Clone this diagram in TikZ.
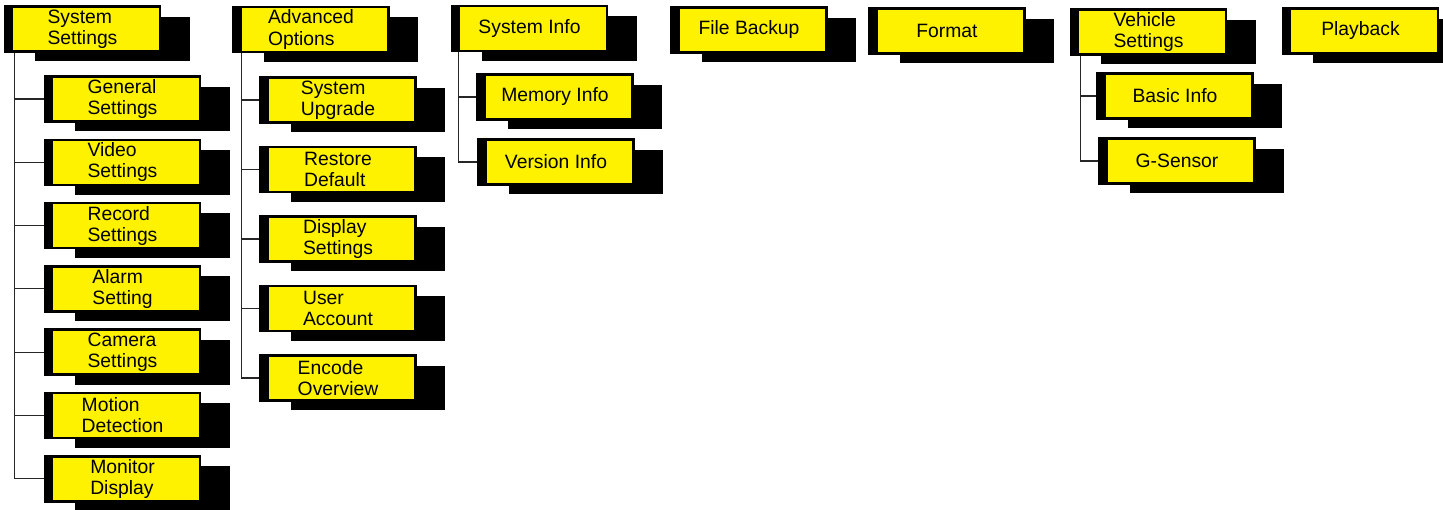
\documentclass[tikz,border=0pt]{standalone}
\usepackage{fontspec}
\setmainfont{Liberation Sans}
\usetikzlibrary{shadows}

\begin{document}
\begin{tikzpicture}[x=0.02cm,y=-0.02cm,
  menu/.style={draw=black,line width=1.4pt,fill=yellow,inner sep=0pt,
    minimum width=3.1cm,minimum height=0.9cm,align=left,
    font=\fontsize{11}{12}\selectfont,
    general shadow={fill=black,shadow xshift=0.6cm,shadow yshift=-0.2cm},
    path picture={\fill[black] (path picture bounding box.north west)
      rectangle ([xshift=0.16cm]path picture bounding box.south west);}},
  link/.style={draw=black!85,line width=0.6pt}]
 \useasboundingbox (0,0) rectangle (1443,510);

 % system settings
 \node [menu] (S0) at (82.5,29) {System\\Settings};
 \node [menu] (S1) at (122.5,99) {General\\Settings};
 \node [menu] (S2) at (122.5,162.3) {Video\\Settings};
 \node [menu] (S3) at (122.5,225.6) {Record\\Settings};
 \node [menu] (S4) at (122.5,288.9) {Alarm\\Setting};
 \node [menu] (S5) at (122.5,352.2) {Camera\\Settings};
 \node [menu] (S6) at (122.5,415.5) {Motion\\Detection};
 \node [menu] (S7) at (122.5,478.8) {Monitor\\Display};
 \draw[link] ([xshift=0.22cm]S0.south west) |- (S1.west);
 \draw[link] ([xshift=0.22cm]S0.south west) |- (S2.west);
 \draw[link] ([xshift=0.22cm]S0.south west) |- (S3.west);
 \draw[link] ([xshift=0.22cm]S0.south west) |- (S4.west);
 \draw[link] ([xshift=0.22cm]S0.south west) |- (S5.west);
 \draw[link] ([xshift=0.22cm]S0.south west) |- (S6.west);
 \draw[link] ([xshift=0.22cm]S0.south west) |- (S7.west);

 % advanced options
 \node [menu] (A0) at (311,29.5) {Advanced\\Options};
 \node [menu] (A1) at (338,100) {System\\Upgrade};
 \node [menu] (A2) at (338,169.5) {Restore\\Default};
 \node [menu] (A3) at (338,239) {Display\\Settings};
 \node [menu] (A4) at (338,308.5) {User\\Account};
 \node [menu] (A5) at (338,378) {Encode\\Overview};
 \draw[link] ([xshift=0.18cm]A0.south west) |- (A1.west);
 \draw[link] ([xshift=0.18cm]A0.south west) |- (A2.west);
 \draw[link] ([xshift=0.18cm]A0.south west) |- (A3.west);
 \draw[link] ([xshift=0.18cm]A0.south west) |- (A4.west);
 \draw[link] ([xshift=0.18cm]A0.south west) |- (A5.west);

 % system info
 \node [menu] (I0) at (529.5,28.5) {System Info};
 \node [menu] (I1) at (555,97) {Memory Info};
 \node [menu] (I2) at (556,162) {Version Info};
 \draw[link] ([xshift=0.16cm]I0.south west) |- (I1.west);
 \draw[link] ([xshift=0.16cm]I0.south west) |- (I2.west);

 \node [menu] (F) at (749,30) {File Backup};
 \node [menu] (Fm) at (947,31) {Format};

 % vehicle settings
 \node [menu] (V0) at (1148.5,32) {Vehicle\\Settings};
 \node [menu] (V1) at (1175,96) {Basic Info};
 \node [menu] (V2) at (1177,161) {G-Sensor};
 \draw[link] ([xshift=0.22cm]V0.south west) |- (V1.west);
 \draw[link] ([xshift=0.22cm]V0.south west) |- (V2.west);

 \node [menu] (P) at (1360.5,31) {Playback};

\end{tikzpicture}
\end{document}
